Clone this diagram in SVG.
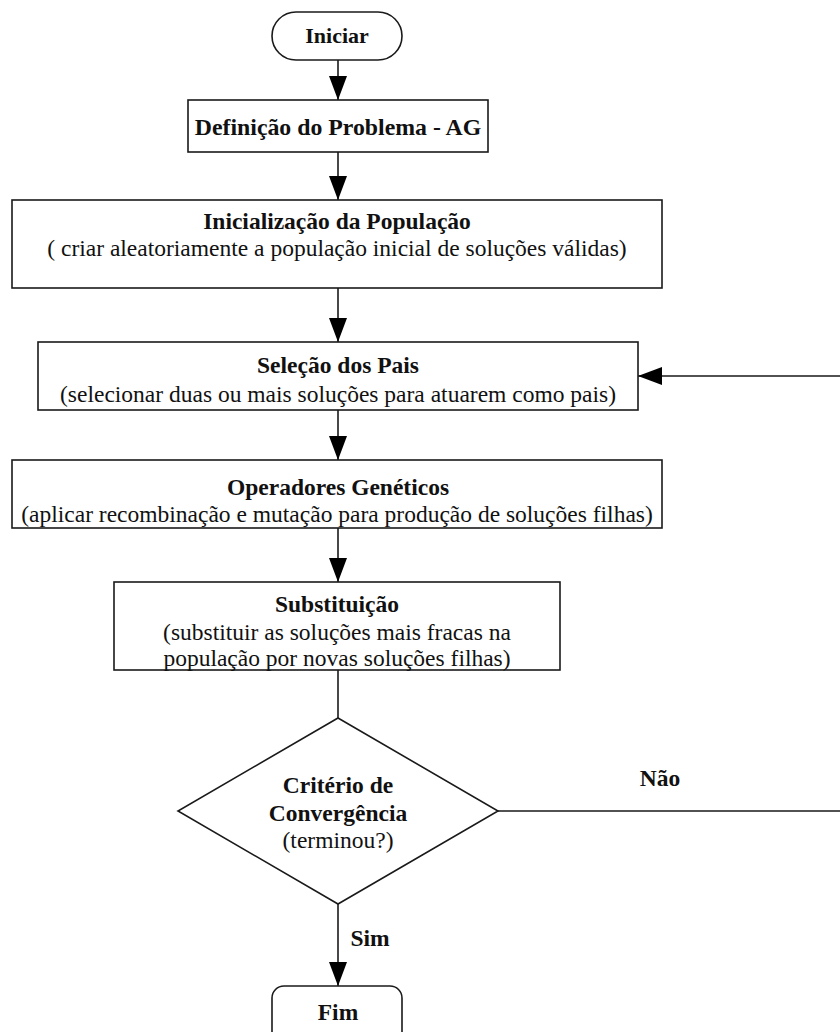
<svg xmlns="http://www.w3.org/2000/svg" width="840" height="1032" viewBox="0 0 840 1032">
  <style>
    .box { fill: #fff; stroke: #1a1a1a; stroke-width: 1.6; }
    .edge { fill: none; stroke: #1a1a1a; stroke-width: 1.6; }
    text { font-family: "Liberation Serif", "Times New Roman", serif; font-size: 23.5px; fill: #111; text-anchor: middle; }
    .b { font-weight: bold; }
  </style>
  <defs>
    <marker id="arrow" markerUnits="userSpaceOnUse" markerWidth="24" markerHeight="20" refX="24" refY="10" orient="auto">
      <path d="M0,1 L24,10 L0,19 Z" fill="#000"/>
    </marker>
  </defs>

  <g id="connectors">
    <line class="edge" x1="338" y1="60" x2="338" y2="100" marker-end="url(#arrow)"/>
    <line class="edge" x1="338" y1="152" x2="338" y2="200" marker-end="url(#arrow)"/>
    <line class="edge" x1="338" y1="288" x2="338" y2="342" marker-end="url(#arrow)"/>
    <line class="edge" x1="338" y1="410" x2="338" y2="460" marker-end="url(#arrow)"/>
    <line class="edge" x1="338" y1="528" x2="338" y2="582" marker-end="url(#arrow)"/>
    <line class="edge" x1="338" y1="670" x2="338" y2="718"/>
    <line class="edge" x1="338" y1="904" x2="338" y2="986" marker-end="url(#arrow)"/>
    <!-- "Não" branch loops back up the right side to the parent selection step -->
    <path class="edge" d="M498,811 L842,811 L842,376 L638,376" marker-end="url(#arrow)"/>
    <text class="b" x="660" y="786">Não</text>
    <text class="b" x="370" y="946">Sim</text>
  </g>

  <g id="start">
    <rect class="box" x="272" y="12" width="130" height="48" rx="24"/>
    <text class="b" x="337" y="43" style="font-size:22px">Iniciar</text>
  </g>

  <g id="definition">
    <rect class="box" x="188" y="100" width="300" height="52"/>
    <text class="b" x="338" y="135" style="font-size:23.8px">Definição do Problema - AG</text>
  </g>

  <g id="initialization">
    <rect class="box" x="12" y="200" width="650" height="88"/>
    <text class="b" x="337" y="229">Inicialização da População</text>
    <text x="337" y="256">( criar aleatoriamente a população inicial de soluções válidas)</text>
  </g>

  <g id="selection">
    <rect class="box" x="38" y="342" width="600" height="68"/>
    <text class="b" x="338" y="373">Seleção dos Pais</text>
    <text x="338" y="402">(selecionar duas ou mais soluções para atuarem como pais)</text>
  </g>

  <g id="operators">
    <rect class="box" x="12" y="460" width="650" height="68"/>
    <text class="b" x="338" y="495">Operadores Genéticos</text>
    <text x="337" y="522">(aplicar recombinação e mutação para produção de soluções filhas)</text>
  </g>

  <g id="replacement">
    <rect class="box" x="114" y="582" width="446" height="88"/>
    <text class="b" x="337" y="612">Substituição</text>
    <text x="337" y="640">(substituir as soluções mais fracas na</text>
    <text x="337" y="666">população por novas soluções filhas)</text>
  </g>

  <g id="convergence">
    <polygon class="box" points="338,718 498,811 338,904 178,811"/>
    <text class="b" x="338" y="793">Critério de</text>
    <text class="b" x="338" y="821">Convergência</text>
    <text x="338" y="848">(terminou?)</text>
  </g>

  <g id="end">
    <rect class="box" x="272" y="986" width="130" height="60" rx="12"/>
    <text class="b" x="338" y="1020">Fim</text>
  </g>
</svg>
